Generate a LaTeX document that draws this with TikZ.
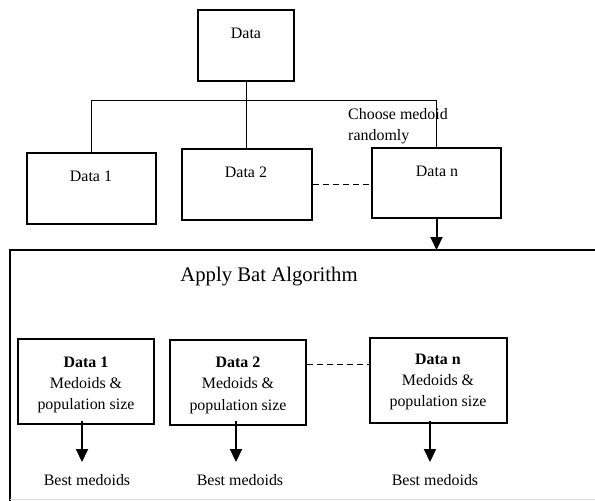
\documentclass[tikz,border=0pt]{standalone}
\usepackage{fontspec}
\setmainfont{Liberation Serif}
\usetikzlibrary{arrows.meta}
\begin{document}
\begin{tikzpicture}[x=1bp,y=-1bp,
  box/.style={draw,line width=2.2bp,minimum width=#1,inner sep=0pt},
  lbl/.style={inner sep=0pt,font=\fontsize{16}{21.5}\selectfont,align=center},
  conn/.style={line width=0.9bp},
  bigarrow/.style={line width=2bp,-{Triangle[width=12bp,length=13bp]}}]
\useasboundingbox (0,0) rectangle (595,501);
% top boxes
\node[box=96bp,minimum height=71bp] (data) at (246,45.5) {};
\node[box=129bp,minimum height=71bp] (d1) at (91.5,188.5) {};
\node[box=130bp,minimum height=71bp] (d2) at (247,184.5) {};
\node[box=129bp,minimum height=70bp] (dn) at (436.5,183) {};
\node[lbl] (tdata) at (246,33) {Data};
\node[lbl] (td1) at (91,176) {Data 1};
\node[lbl] (td2) at (246,172) {Data 2};
\node[lbl] (tdn) at (437,171) {Data n};
\node[lbl,align=left,anchor=west] (choose) at (348,126) {Choose medoid\\randomly};
% tree connectors
\coordinate (j) at (246,100);
\draw[conn] (data.south) -- (d2.north -| data.south);
\draw[conn] (d1.north) -- (d1.north |- j) -- (dn.north |- j) -- (dn.north);
\draw[conn,dashed,dash pattern=on 6bp off 4bp] (d2.east) -- (d2.east -| dn.west);
% big frame
\coordinate (ftl) at (10,250);
\coordinate (ftr) at (595,250);
\coordinate (fbl) at (10,501);
\draw[line width=1.6bp] (ftr) -- (ftl) -- (fbl);
\draw[black!15,line width=0.8bp] (10,499) -- (595,499);
\draw[bigarrow] (dn.south) -- (dn.south |- ftl);
\node[inner sep=0pt,font=\fontsize{20.8}{25}\selectfont] (apply) at (269,277) {Apply Bat Algorithm};
% inner boxes
\node[box=136bp,minimum height=85bp] (b1) at (86,381.5) {};
\node[box=136bp,minimum height=85bp] (b2) at (238,382.5) {};
\node[box=137bp,minimum height=85bp] (b3) at (438.5,380.5) {};
\node[lbl] (tb1) at (86,385) {\textbf{Data 1}\\Medoids \&\\population size};
\node[lbl] (tb2) at (238,385) {\textbf{Data 2}\\Medoids \&\\population size};
\node[lbl] (tb3) at (438,382) {\textbf{Data n}\\Medoids \&\\population size};
\draw[conn,dashed,dash pattern=on 6bp off 4bp] (b2.east |- 0,364) -- (b3.west |- 0,364);
% outputs
\node[lbl] (o1) at (87,480) {Best medoids};
\node[lbl] (o2) at (240,480) {Best medoids};
\node[lbl] (o3) at (435,480) {Best medoids};
\draw[bigarrow] (82,421) -- (82,462);
\draw[bigarrow] (236,421) -- (236,462);
\draw[bigarrow] (430,421) -- (430,462);
\end{tikzpicture}
\end{document}
